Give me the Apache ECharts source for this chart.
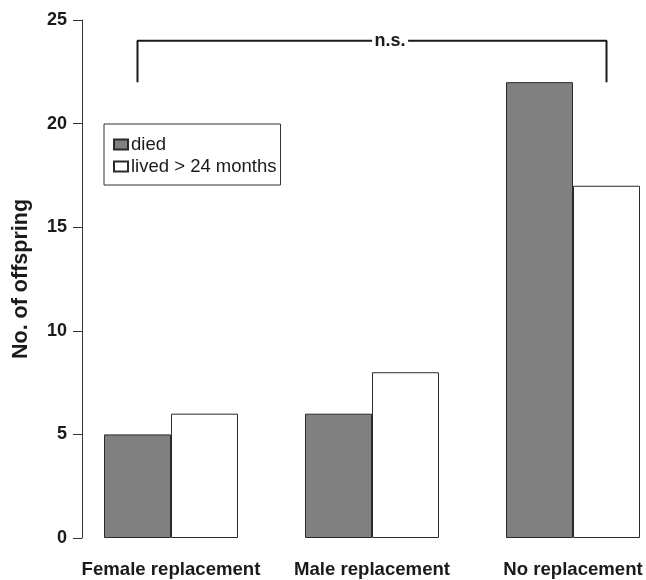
<!DOCTYPE html>
<html>
<head>
<meta charset="utf-8">
<script src="https://cdn.jsdelivr.net/npm/echarts@6/dist/echarts.min.js"></script>
<style>
  html, body { margin: 0; padding: 0; background: #fff; }
  #chart { width: 646px; height: 580px; }
</style>
</head>
<body>
<div id="chart"></div>
<script>
// offspring by replacement treatment
const categories = ['Female replacement', 'Male replacement', 'No replacement']
const died = [5, 6, 22]
const lived = [6, 8, 17]
const yTicks = { min: 0, max: 25, interval: 5 }

// significance bracket: from "died" of first group to "lived" of last group
const bracketGroups = [0, 2]
const bracketTop = 24
const bracketDrop = 22
const bracketLabel = 'n.s.'

const FONT = '"Liberation Sans", Arial, Helvetica, sans-serif'
const INK = '#1a1a1a'

// each bar is 1/3 of a category, so bar centres sit at +-1/6
const barShift = 1 / 6
const bx0 = bracketGroups[0] - barShift
const bx1 = bracketGroups[1] + barShift
const bracketLine = [
  [bx0, bracketDrop],
  [bx0, bracketTop],
  [bx1, bracketTop],
  [bx1, bracketDrop]
]
// label sits a little right of the bracket middle
const labelX = (bx0 + bx1) / 2 + 0.09

const chart = echarts.init(document.getElementById('chart'))
chart.setOption({
  animation: false,
  backgroundColor: '#fff',
  textStyle: { fontFamily: FONT },
  grid: {
    left: 70.5, right: -27.5, top: 20, bottom: 42,
    containLabel: false, outerBoundsMode: 'none'
  },
  legend: {
    data: ['died', 'lived > 24 months'],
    orient: 'vertical',
    left: 104, top: 124,
    icon: 'rect',
    itemWidth: 14, itemHeight: 10,
    itemGap: 3,
    textStyle: { fontFamily: FONT, fontSize: 18.5, color: INK, padding: [0, 0, 0, -2] },
    borderColor: '#333', borderWidth: 1,
    padding: [11, 4, 9, 9]
  },
  xAxis: [
    {
      type: 'category',
      data: categories,
      axisLine: { show: false },
      axisTick: { show: false },
      axisLabel: {
        interval: 0, margin: 22,
        fontFamily: FONT, fontSize: 18.6, fontWeight: 'bold', color: INK
      }
    },
    { type: 'value', min: -0.5, max: 2.5, show: false }
  ],
  yAxis: {
    type: 'value',
    min: yTicks.min, max: yTicks.max, interval: yTicks.interval,
    offset: -11.5,
    name: 'No. of offspring',
    nameLocation: 'middle',
    nameGap: 50,
    nameTextStyle: { fontFamily: FONT, fontSize: 21.5, fontWeight: 'bold', color: INK },
    axisLine: { show: true, onZero: false, lineStyle: { color: '#333', width: 1 } },
    axisTick: { show: true, length: 9, lineStyle: { color: '#333', width: 1 } },
    splitLine: { show: false },
    axisLabel: { margin: 15, fontFamily: FONT, fontSize: 18, fontWeight: 'bold', color: INK }
  },
  series: [
    {
      name: 'died',
      type: 'bar',
      data: died,
      barCategoryGap: '33.33%',
      barGap: '0%',
      itemStyle: { color: '#808080', borderColor: '#2a2a2a', borderWidth: 1 }
    },
    {
      name: 'lived > 24 months',
      type: 'bar',
      data: lived,
      itemStyle: { color: '#fff', borderColor: '#2a2a2a', borderWidth: 1 }
    },
    {
      name: 'bracket',
      type: 'line',
      xAxisIndex: 1,
      data: bracketLine,
      symbol: 'none',
      silent: true,
      z: 3,
      lineStyle: { color: INK, width: 2 }
    },
    {
      name: 'bracketLabel',
      type: 'scatter',
      xAxisIndex: 1,
      data: [[labelX, bracketTop]],
      symbol: 'rect',
      symbolSize: [36, 14],
      itemStyle: { color: '#fff', opacity: 1 },
      silent: true,
      z: 10,
      label: {
        show: true,
        position: 'inside',
        formatter: bracketLabel,
        fontFamily: FONT, fontSize: 18, fontWeight: 'bold', color: INK,
        textBorderWidth: 0
      }
    }
  ]
})
</script>
</body>
</html>
